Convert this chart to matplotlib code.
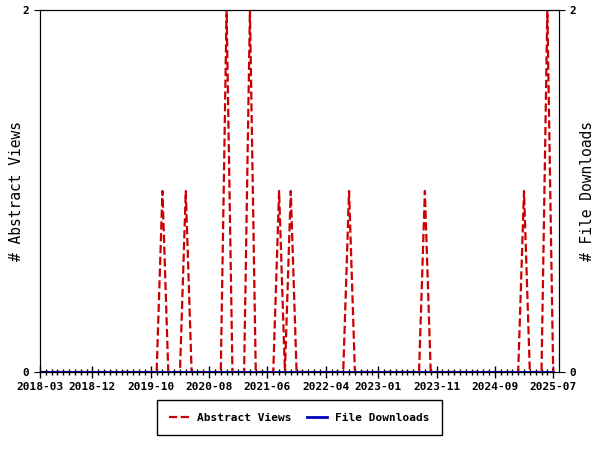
import matplotlib
matplotlib.use("Agg")
import matplotlib.pyplot as plt
import pandas as pd

# ------------------------------
# Data (monthly, 2018-03 .. 2025-07)
# ------------------------------
months = pd.date_range("2018-03-01", periods=89, freq="MS").strftime("%Y-%m").tolist()

abstract_views = [
    0, 0, 0, 0, 0, 0, 0, 0, 0, 0, 0, 0,
    0, 0, 0, 0, 0, 0, 0, 0, 0, 1, 0, 0,
    0, 1, 0, 0, 0, 0, 0, 0, 2, 0, 0, 0,
    2, 0, 0, 0, 0, 1, 0, 1, 0, 0, 0, 0,
    0, 0, 0, 0, 0, 1, 0, 0, 0, 0, 0, 0,
    0, 0, 0, 0, 0, 0, 1, 0, 0, 0, 0, 0,
    0, 0, 0, 0, 0, 0, 0, 0, 0, 0, 0, 1,
    0, 0, 0, 2, 0,
]
file_downloads = [
    0, 0, 0, 0, 0, 0, 0, 0, 0, 0, 0, 0,
    0, 0, 0, 0, 0, 0, 0, 0, 0, 0, 0, 0,
    0, 0, 0, 0, 0, 0, 0, 0, 0, 0, 0, 0,
    0, 0, 0, 0, 0, 0, 0, 0, 0, 0, 0, 0,
    0, 0, 0, 0, 0, 0, 0, 0, 0, 0, 0, 0,
    0, 0, 0, 0, 0, 0, 0, 0, 0, 0, 0, 0,
    0, 0, 0, 0, 0, 0, 0, 0, 0, 0, 0, 0,
    0, 0, 0, 0, 0,
]
label_idx = [0, 9, 19, 29, 39, 49, 58, 68, 78, 88]

# ------------------------------
# Style
# ------------------------------
FONT = "DejaVu Sans Mono"
C_VIEWS = "#cc0000"
C_DL = "#0000bb"

plt.rcParams["font.family"] = FONT
plt.rcParams["font.weight"] = "bold"

fig = plt.figure(figsize=(6, 4.5), dpi=100)
ax = fig.add_axes([40/600, 1 - 372/450, 519/600, 362/450])
ax2 = ax.twinx()

x = list(range(len(months)))
l1, = ax.plot(x, abstract_views, color=C_VIEWS, ls="--", lw=1.6,
              label="Abstract Views")
l2, = ax2.plot(x, file_downloads, color=C_DL, ls="-", lw=2,
               label="File Downloads")

ax.set_xlim(0, 89)
ax.set_ylim(0, 2)
ax2.set_ylim(0, 2)
ax.set_yticks([0, 2])
ax2.set_yticks([0, 2])

ax.set_xticks(label_idx)
ax.set_xticklabels([months[i] for i in label_idx], fontsize=8, fontweight="bold")
ax.set_xticks(x, minor=True)
ax.tick_params(axis="x", which="major", direction="inout", length=8, width=1)
ax.tick_params(axis="x", which="minor", direction="inout", length=5, width=1)
ax.tick_params(axis="y", labelsize=8, length=4)
ax2.tick_params(axis="y", labelsize=8, length=4)
for lab in ax.get_yticklabels() + ax2.get_yticklabels():
    lab.set_fontweight("bold")

ax.set_ylabel("# Abstract Views", fontsize=10.5, fontweight="normal", labelpad=-1)
ax2.set_ylabel("# File Downloads", fontsize=10.5, fontweight="normal", labelpad=3)

fig.legend(handles=[l1, l2], loc="center", bbox_to_anchor=(0.499, 0.072),
           ncol=2, fancybox=False, edgecolor="black", framealpha=1,
           prop={"family": FONT, "size": 8, "weight": "bold"},
           borderpad=1.1, handlelength=1.8, handletextpad=0.7,
           columnspacing=1.4)

fig.savefig("out.png", dpi=100)
